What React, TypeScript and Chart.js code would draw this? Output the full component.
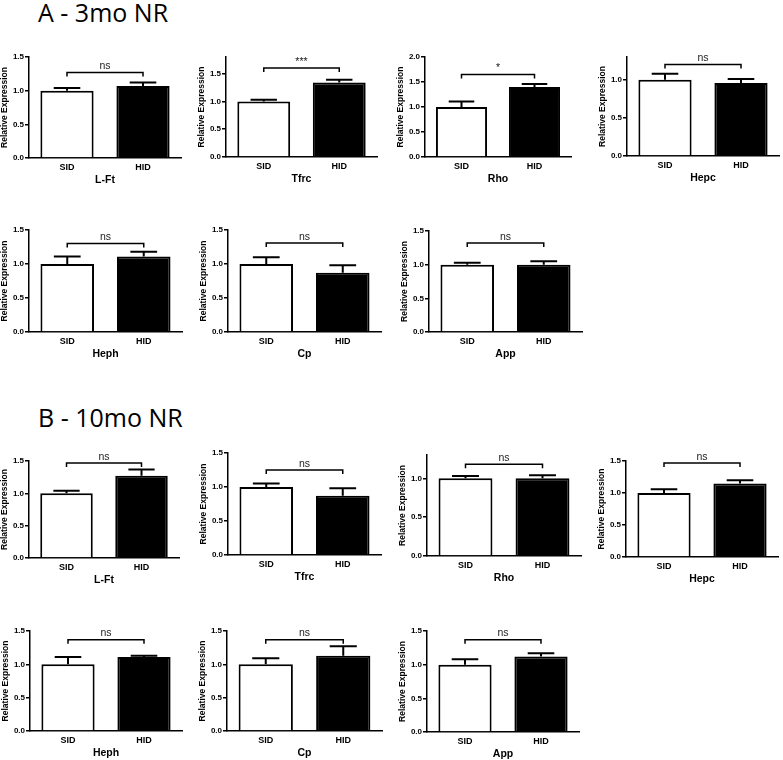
import React, { useEffect, useRef } from 'react';
import { Chart, registerables } from 'chart.js';

Chart.register(...registerables);
Chart.defaults.font.family = "'Liberation Sans', Arial, sans-serif";
Chart.defaults.color = '#000';

// ---------- DATA ----------
const groups = ['SID', 'HID'];
const genes = ['L-Ft', 'Tfrc', 'Rho', 'Hepc', 'Heph', 'Cp', 'App'];
const yTickValues = [0, 0.5, 1.0, 1.5, 2.0];

// A - 3mo NR
const sidMean3 = [1.0, 1.0, 1.0, 1.0, 1.0, 1.0, 1.0];
const sidErr3 = [0.04, 0.03, 0.11, 0.08, 0.11, 0.1, 0.03];
const hidMean3 = [1.07, 1.34, 1.4, 0.96, 1.11, 0.87, 1.0];
const hidErr3 = [0.05, 0.05, 0.06, 0.05, 0.07, 0.11, 0.05];
const sig3 = ['ns', '***', '*', 'ns', 'ns', 'ns', 'ns'];
const bracket3 = [1.27, 1.6, 1.65, 1.2, 1.3, 1.31, 1.32];
const yMax3 = [1.5, 1.8, 2.0, 1.3, 1.5, 1.5, 1.5];

// B - 10mo NR
const sidMean10 = [1.0, 1.0, 1.0, 1.0, 1.0, 1.0, 1.0];
const sidErr10 = [0.04, 0.05, 0.03, 0.06, 0.11, 0.09, 0.08];
const hidMean10 = [1.27, 0.87, 1.0, 1.15, 1.11, 1.13, 1.12];
const hidErr10 = [0.1, 0.11, 0.04, 0.05, 0.02, 0.14, 0.05];
const sig10 = ['ns', 'ns', 'ns', 'ns', 'ns', 'ns', 'ns'];
const bracket10 = [1.47, 1.25, 1.18, 1.47, 1.37, 1.37, 1.37];
const yMax10 = [1.5, 1.5, 1.3, 1.5, 1.5, 1.5, 1.5];

// ---------- LAYOUT ----------
const axisX3 = [29, 226, 425, 627, 29, 228, 429];
const plotW3 = [152, 151, 146, 152, 153, 153, 153];
const plotTop3 = [57, 57, 57, 57, 230, 230, 231];
const plotBot3 = [158, 157, 157, 156, 332, 332, 332];
const axisX10 = [29, 228, 427, 626, 30, 227, 427];
const plotW10 = [150, 153, 154, 152, 152, 155, 152];
const plotTop10 = [461, 453, 455, 461, 631, 631, 631];
const plotBot10 = [558, 555, 556, 557, 731, 731, 732];

const Y_AXIS_W = 29;
const PAD_TOP = 14;
const X_AXIS_H = 28;
const PAD_RIGHT = 8;

type PanelProps = {
  gene: string;
  means: number[];
  errs: number[];
  sig: string;
  bracket: number;
  yMax: number;
  axisX: number;
  plotW: number;
  plotTop: number;
  plotBot: number;
};

const annotPlugin = {
  id: 'annot',
  afterDatasetsDraw(chart: any, _args: any, opts: any) {
    const { ctx } = chart;
    const y = chart.scales.y;
    const meta = chart.getDatasetMeta(0);
    ctx.save();
    ctx.strokeStyle = '#000';
    ctx.lineWidth = 2;
    meta.data.forEach((bar: any, i: number) => {
      const m = opts.means[i];
      const e = opts.errs[i];
      const y0 = y.getPixelForValue(m);
      const y1 = y.getPixelForValue(m + e);
      const half = bar.width / 4;
      ctx.beginPath();
      ctx.moveTo(bar.x, y0);
      ctx.lineTo(bar.x, y1);
      ctx.moveTo(bar.x - half, y1);
      ctx.lineTo(bar.x + half, y1);
      ctx.stroke();
    });
    const yb = y.getPixelForValue(opts.bracket);
    const x1 = meta.data[0].x;
    const x2 = meta.data[1].x;
    ctx.lineWidth = 1.5;
    ctx.beginPath();
    ctx.moveTo(x1, yb + 4);
    ctx.lineTo(x1, yb);
    ctx.lineTo(x2, yb);
    ctx.lineTo(x2, yb + 4);
    ctx.stroke();
    ctx.fillStyle = '#222';
    ctx.font = "10.5px 'Liberation Sans', Arial, sans-serif";
    ctx.textAlign = 'center';
    ctx.textBaseline = 'bottom';
    ctx.fillText(opts.sig, (x1 + x2) / 2, yb - 1);
    ctx.restore();
  },
};

function Panel(p: PanelProps) {
  const ref = useRef<HTMLCanvasElement>(null);
  const width = Y_AXIS_W + p.plotW + PAD_RIGHT;
  const height = PAD_TOP + (p.plotBot - p.plotTop) + X_AXIS_H;
  const left = p.axisX - Y_AXIS_W;
  const top = p.plotTop - PAD_TOP;

  useEffect(() => {
    if (!ref.current) return;
    const ticks = yTickValues.filter((v) => v <= p.yMax + 1e-9);
    const chart = new Chart(ref.current, {
      type: 'bar',
      data: {
        labels: groups,
        datasets: [
          {
            data: p.means,
            backgroundColor: ['#ffffff', '#000000'],
            borderColor: '#000000',
            borderWidth: 2,
            categoryPercentage: 0.7,
            barPercentage: 1.0,
          },
        ],
      },
      options: {
        responsive: false,
        animation: false,
        devicePixelRatio: 1,
        layout: { padding: { top: PAD_TOP, right: PAD_RIGHT, left: 0, bottom: 0 } },
        plugins: {
          legend: { display: false },
          tooltip: { enabled: false },
          annot: { means: p.means, errs: p.errs, sig: p.sig, bracket: p.bracket },
        } as any,
        scales: {
          x: {
            type: 'category',
            grid: { display: false, drawTicks: false },
            border: { display: true, color: '#000', width: 1.5 },
            ticks: { padding: 4, font: { size: 9, weight: 'bold' }, color: '#000' },
            title: {
              display: true,
              text: p.gene,
              font: { size: 10.5, weight: 'bold' },
              color: '#000',
              padding: 0,
            },
            afterFit: (s: any) => {
              s.height = X_AXIS_H;
            },
          },
          y: {
            min: 0,
            max: p.yMax,
            grid: {
              display: true,
              drawOnChartArea: false,
              drawTicks: true,
              tickLength: 4,
              color: '#000',
              lineWidth: 1.5,
            },
            border: { display: true, color: '#000', width: 1.5 },
            ticks: {
              padding: 1,
              font: { size: 8, weight: 'bold' },
              color: '#000',
              callback: (v: any) => Number(v).toFixed(1),
            },
            afterBuildTicks: (s: any) => {
              s.ticks = ticks.map((v) => ({ value: v }));
            },
            title: {
              display: true,
              text: 'Relative Expression',
              font: { size: 8.5, weight: 'bold' },
              color: '#000',
              padding: 0,
            },
            afterFit: (s: any) => {
              s.width = Y_AXIS_W;
            },
          },
        },
      } as any,
      plugins: [annotPlugin],
    });
    return () => chart.destroy();
  }, []);

  return (
    <canvas
      ref={ref}
      width={width}
      height={height}
      style={{ position: 'absolute', left, top, width, height }}
    />
  );
}

const titleStyle: React.CSSProperties = {
  position: 'absolute',
  left: 38,
  fontFamily: "'Open Sans', sans-serif",
  fontSize: 25,
  lineHeight: '25px',
  color: '#000',
  whiteSpace: 'nowrap',
};

export default function App() {
  return (
    <div
      style={{
        position: 'absolute',
        left: 0,
        top: 0,
        width: 783,
        height: 760,
        background: '#fff',
        overflow: 'hidden',
      }}
    >
      <div style={{ ...titleStyle, top: 0 }}>A - 3mo NR</div>
      <div style={{ ...titleStyle, top: 405 }}>B - 10mo NR</div>
      {genes.map((g, i) => (
        <Panel
          key={'a' + g}
          gene={g}
          means={[sidMean3[i], hidMean3[i]]}
          errs={[sidErr3[i], hidErr3[i]]}
          sig={sig3[i]}
          bracket={bracket3[i]}
          yMax={yMax3[i]}
          axisX={axisX3[i]}
          plotW={plotW3[i]}
          plotTop={plotTop3[i]}
          plotBot={plotBot3[i]}
        />
      ))}
      {genes.map((g, i) => (
        <Panel
          key={'b' + g}
          gene={g}
          means={[sidMean10[i], hidMean10[i]]}
          errs={[sidErr10[i], hidErr10[i]]}
          sig={sig10[i]}
          bracket={bracket10[i]}
          yMax={yMax10[i]}
          axisX={axisX10[i]}
          plotW={plotW10[i]}
          plotTop={plotTop10[i]}
          plotBot={plotBot10[i]}
        />
      ))}
    </div>
  );
}
